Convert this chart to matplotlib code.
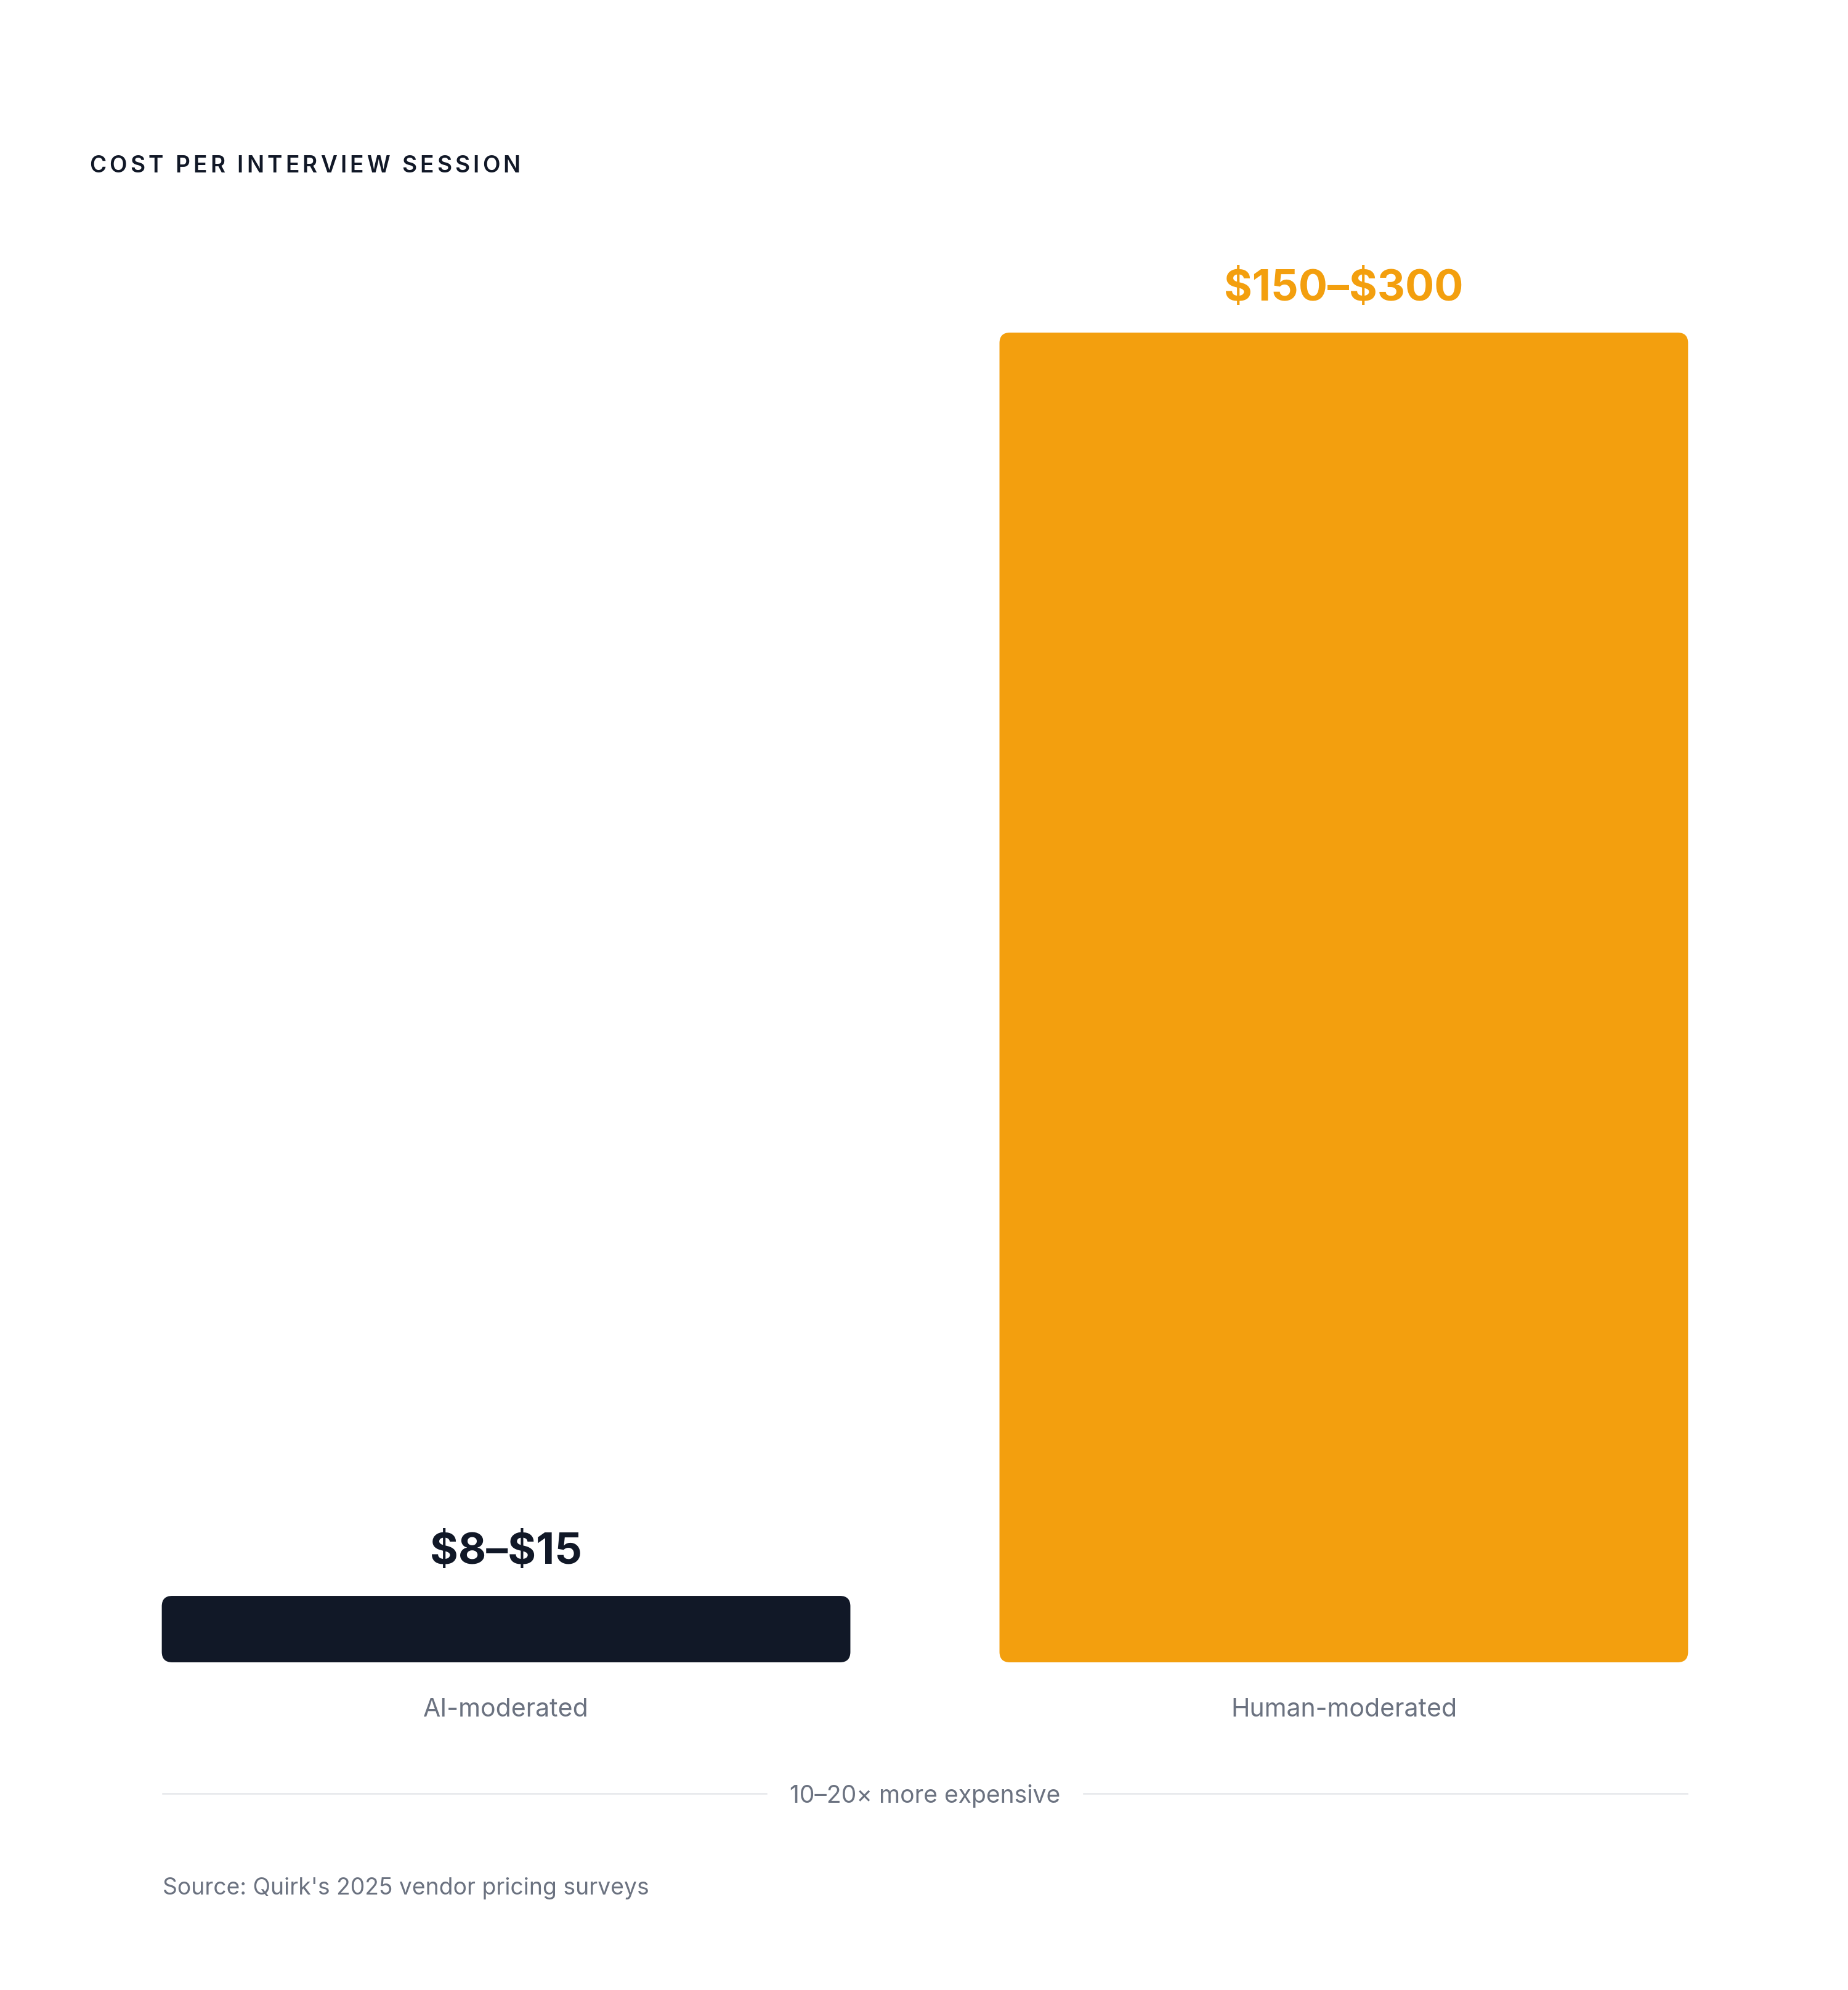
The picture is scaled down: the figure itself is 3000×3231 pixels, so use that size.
import matplotlib
matplotlib.use("Agg")
import matplotlib.pyplot as plt
from matplotlib.patches import FancyBboxPatch
from matplotlib.lines import Line2D
from matplotlib.font_manager import FontProperties, findfont, get_font

# ---- data ----
categories = ["AI-moderated", "Human-moderated"]
values = [15, 300]                      # upper end of each price range ($)
value_labels = ["$8–$15", "$150–$300"]
bar_colors = ["#111827", "#F39F0E"]
title = "COST PER INTERVIEW SESSION"
note = "10–20× more expensive"
source = "Source: Quirk's 2025 vendor pricing surveys"

# ---- styling ----
DARK = "#111827"
GRAY = "#6B7280"
LINE = "#E5E7EB"
FAM = ["Inter", "DejaVu Sans"]

W, H = 3000, 3231
DPI = 100
fig = plt.figure(figsize=(W / DPI, H / DPI), dpi=DPI, facecolor="white")


def fx(px):
    return px / W


def fy(py):
    return 1 - py / H


def pt(px):
    return px * 72 / DPI


ax = fig.add_axes([fx(264), fy(2699), fx(2739) - fx(264), fy(540) - fy(2699)])
ax.set_xlim(-0.41, 1.41)
ax.set_ylim(0, max(values))
ax.axis("off")

xs = list(range(len(categories)))
bars = ax.bar(xs, values, width=0.822, color=bar_colors)

# rounded corners
px_per_x = ax.transData.transform((1, 0))[0] - ax.transData.transform((0, 0))[0]
px_per_y = ax.transData.transform((0, 1))[1] - ax.transData.transform((0, 0))[1]
r_px = 17
for b in bars:
    b.set_visible(False)
    p = FancyBboxPatch((b.get_x(), b.get_y()), b.get_width(), b.get_height(),
                       boxstyle=f"round,pad=0,rounding_size={r_px / px_per_x}",
                       mutation_aspect=px_per_x / px_per_y,
                       fc=b.get_facecolor(), ec="none", clip_on=False)
    ax.add_patch(p)

# value labels
for x, v, lab, c in zip(xs, values, value_labels, bar_colors):
    ax.annotate(lab, xy=(x, v), xytext=(0, pt(52)), textcoords="offset points",
                ha="center", va="baseline", fontsize=pt(70), fontweight="bold",
                family=FAM, color=c, annotation_clip=False, parse_math=False)

# category labels
for x, cat in zip(xs, categories):
    ax.annotate(cat, xy=(x, 0), xycoords=("data", "axes fraction"),
                xytext=(0, -pt(88)), textcoords="offset points",
                ha="center", va="baseline", fontsize=pt(41), family=FAM,
                color=GRAY, annotation_clip=False)

# title with letter spacing
fp = FontProperties(family=FAM, weight="semibold", size=pt(37))
font = get_font(findfont(fp))
font.set_size(fp.get_size_in_points(), DPI)
xpos = 145
track = 0.14 * 37
for ch in title:
    fig.text(fx(xpos), fy(280), ch, fontproperties=fp, color=DARK,
             ha="left", va="baseline")
    g = font.load_char(ord(ch))
    xpos += g.linearHoriAdvance / 65536 + track

# divider with note
renderer = fig.canvas.get_renderer()
axpos = ax.get_position()
cx = (axpos.x0 + axpos.x1) / 2
t = fig.text(cx, fy(2927), note, ha="center", va="baseline",
             fontsize=pt(39), family=FAM, color=GRAY)
bb = t.get_window_extent(renderer)
gap = 38
yl = fy(2912)
fig.add_artist(Line2D([axpos.x0, (bb.x0 - gap) / W], [yl, yl], color=LINE,
                      lw=pt(2.5), transform=fig.transFigure))
fig.add_artist(Line2D([(bb.x1 + gap) / W, axpos.x1], [yl, yl], color=LINE,
                      lw=pt(2.5), transform=fig.transFigure))

# source
fig.text(axpos.x0, fy(3076), source, ha="left", va="baseline",
         fontsize=pt(37.3), family=FAM, color=GRAY, parse_math=False)

fig.savefig("out.png", dpi=DPI, facecolor="white")
